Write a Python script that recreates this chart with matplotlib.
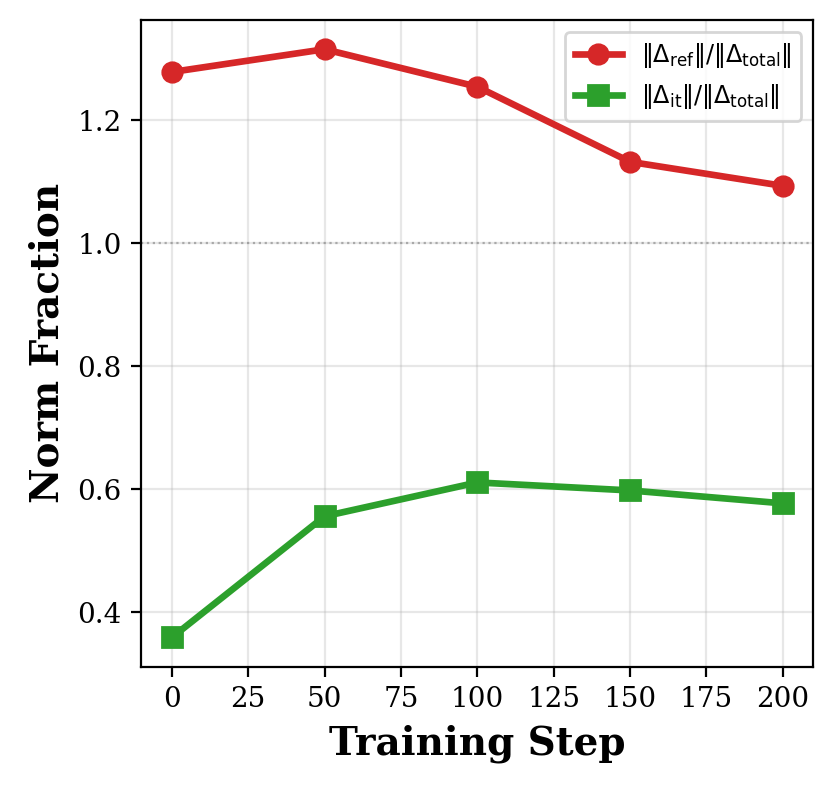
import numpy as np
import matplotlib
matplotlib.use('Agg')
import matplotlib.pyplot as plt

plt.rcParams['font.family'] = 'DejaVu Serif'
plt.rcParams['mathtext.fontset'] = 'dejavusans'

# ── data ──────────────────────────────────────────────────────────────────
steps = [0, 50, 100, 150, 200]
ref_frac = [1.278, 1.315, 1.254, 1.132, 1.093]
it_frac = [0.359, 0.556, 0.611, 0.598, 0.577]

fig, ax = plt.subplots(figsize=(4.18, 3.965), dpi=200)
fig.subplots_adjust(left=0.169, right=0.973, top=0.975, bottom=0.159)

ax.plot(steps, ref_frac, color='#d62728', lw=2.4, marker='o', ms=7,
        label=r'$\|\Delta_{\mathrm{ref}}\|/\|\Delta_{\mathrm{total}}\|$')
ax.plot(steps, it_frac, color='#2ca02c', lw=2.4, marker='s', ms=7,
        label=r'$\|\Delta_{\mathrm{it}}\|/\|\Delta_{\mathrm{total}}\|$')
ax.axhline(1.0, color='gray', ls=':', lw=0.8, alpha=0.6)

ax.set_xticks([0, 25, 50, 75, 100, 125, 150, 175, 200])
ax.set_yticks([0.4, 0.6, 0.8, 1.0, 1.2])
ax.tick_params(labelsize=10)
ax.grid(True, alpha=0.3)
ax.set_xlabel('Training Step', fontsize=14, fontweight='bold')
ax.set_ylabel('Norm Fraction', fontsize=14, fontweight='bold')
ax.legend(loc='upper right', fontsize=8.6)

plt.savefig('out.png', dpi=200)
plt.close()
